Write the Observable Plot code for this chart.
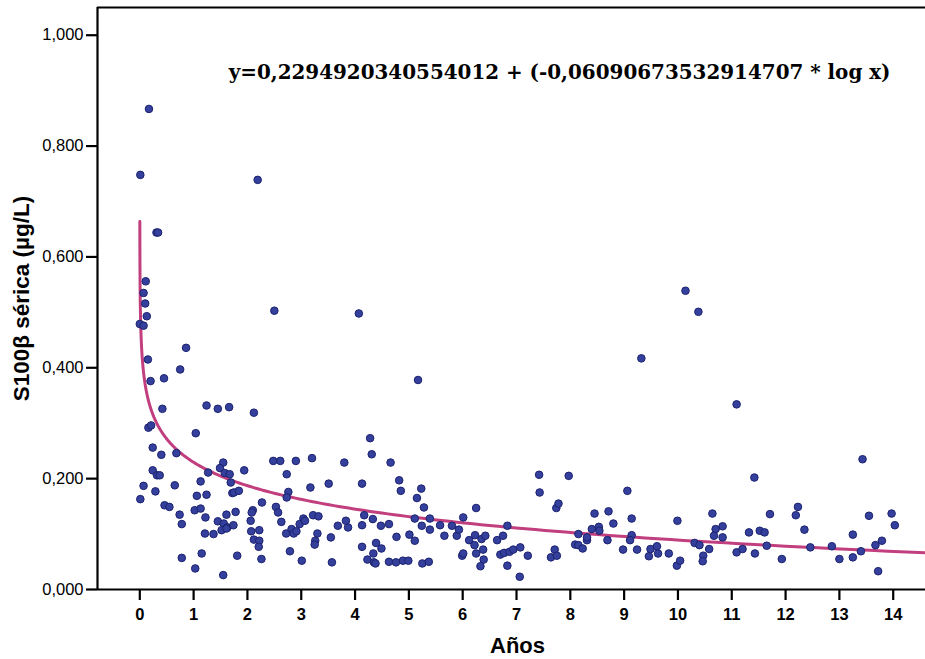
<!DOCTYPE html>
<html>
<head>
<meta charset="utf-8">
<script src="https://cdn.jsdelivr.net/npm/d3@7"></script>
<script src="https://cdn.jsdelivr.net/npm/@observablehq/plot@0.6"></script>
<style>
  html, body { margin: 0; padding: 0; background: #fff; }
  #chart svg { display: block; }
</style>
</head>
<body>
<div id="chart"></div>
<script>
// Years since (Años)
const years = [
  0.17,0.01,2.19,0.31,0.34,0.11,0.07,0.10,0.13,0.00,0.07,2.50,
  0.15,0.86,0.75,0.20,0.45,0.42,1.24,1.45,1.66,2.12,0.16,0.21,1.04,0.24,0.40,0.68,
  0.24,0.32,0.37,0.07,0.29,0.01,0.65,0.46,0.55,0.74,0.78,0.78,1.27,1.13,1.06,1.24,
  1.02,1.13,1.22,1.21,1.37,1.15,1.03,1.55,1.49,1.58,1.67,1.69,1.72,1.75,1.84,1.94,
  1.61,1.78,1.45,1.56,1.63,1.74,1.52,1.61,1.81,1.55,2.10,2.08,2.06,2.07,2.22,2.12,
  2.22,2.21,2.26,2.27,2.48,2.61,2.73,2.53,2.57,2.63,2.72,2.79,2.76,2.73,
  2.90,3.20,3.17,3.51,3.80,4.28,4.31,4.13,4.66,4.82,4.85,5.23,5.15,5.28,2.82,2.86,
  2.91,2.97,3.04,3.07,3.22,3.32,3.30,3.26,3.25,3.01,3.55,3.57,3.68,3.83,3.87,
  4.13,4.17,4.33,4.48,4.63,4.13,4.39,4.49,4.34,4.23,4.35,4.38,4.63,4.77,4.76,4.89,
  4.99,5.01,5.11,5.11,5.24,5.39,5.39,5.25,5.37,5.58,5.66,5.80,5.89,5.93,6.01,6.25,
  6.12,6.23,6.22,6.35,6.42,6.38,6.25,5.99,6.01,6.39,6.33,
  6.64,6.75,6.83,6.70,6.77,6.87,6.94,7.07,6.83,7.06,7.21,7.42,7.43,7.97,7.74,7.78,
  7.71,7.64,7.75,8.15,8.09,8.15,8.23,8.31,8.31,8.40,8.45,8.53,8.54,8.71,8.80,8.69,
  8.98,9.06,9.14,9.14,9.11,9.24,9.49,9.61,9.46,9.63,9.83,9.99,9.98,10.04,
  11.09,11.42,10.64,10.70,10.83,10.67,10.83,10.31,10.40,10.58,10.47,10.46,11.09,11.20,
  11.32,11.52,11.61,11.71,11.65,11.43,11.93,12.19,12.23,12.35,12.46,12.86,13.00,13.25,
  13.25,13.40,13.43,13.55,13.67,13.79,13.72,13.97,14.03,
  4.07,5.17,9.32,10.14,10.38
];
// Serum S100β (µg/L)
const s100 = [
  0.867,0.748,0.739,0.644,0.644,0.556,0.535,0.516,0.493,0.479,0.476,0.503,
  0.415,0.436,0.397,0.376,0.381,0.326,0.332,0.326,0.329,0.319,0.292,0.296,0.282,0.256,0.243,0.246,
  0.215,0.206,0.206,0.187,0.177,0.163,0.188,0.152,0.149,0.135,0.118,0.057,0.211,0.195,0.169,0.171,
  0.143,0.146,0.130,0.101,0.100,0.065,0.038,0.229,0.219,0.210,0.208,0.193,0.174,0.175,0.178,0.215,
  0.135,0.140,0.123,0.119,0.112,0.116,0.107,0.110,0.061,0.026,0.143,0.139,0.124,0.105,0.107,0.090,
  0.088,0.077,0.055,0.157,0.232,0.232,0.208,0.149,0.139,0.122,0.101,0.069,0.176,0.166,
  0.232,0.237,0.184,0.191,0.229,0.273,0.244,0.191,0.229,0.197,0.178,0.182,0.165,0.148,0.109,0.101,
  0.105,0.118,0.128,0.124,0.134,0.132,0.101,0.088,0.081,0.052,0.094,0.049,0.115,0.124,0.112,
  0.116,0.134,0.127,0.115,0.118,0.077,0.084,0.074,0.065,0.054,0.049,0.047,0.050,0.095,0.049,0.052,
  0.052,0.099,0.088,0.128,0.115,0.128,0.108,0.047,0.050,0.116,0.097,0.115,0.097,0.108,0.130,0.147,
  0.089,0.098,0.080,0.091,0.097,0.072,0.065,0.061,0.065,0.054,0.042,
  0.089,0.097,0.115,0.063,0.066,0.068,0.072,0.076,0.043,0.023,0.061,0.207,0.175,0.205,0.147,0.155,
  0.072,0.058,0.061,0.100,0.081,0.080,0.074,0.089,0.094,0.109,0.137,0.113,0.106,0.141,0.119,0.089,
  0.072,0.178,0.128,0.098,0.089,0.072,0.073,0.078,0.060,0.065,0.065,0.124,0.043,0.052,
  0.334,0.202,0.137,0.109,0.114,0.097,0.094,0.084,0.080,0.073,0.061,0.051,0.067,0.073,
  0.103,0.106,0.103,0.136,0.079,0.065,0.055,0.134,0.149,0.108,0.076,0.078,0.055,0.099,
  0.058,0.069,0.235,0.133,0.080,0.088,0.033,0.137,0.116,
  0.498,0.378,0.417,0.539,0.501
];
// Fitted model (from the chart's equation): y = a + b * ln(x)
const fitA = 0.2294920340554012;
const fitB = -0.06090673532914707;
const equationLabel = "y=0,2294920340554012 + (-0,06090673532914707 * log x)";
const xTicks = [0,1,2,3,4,5,6,7,8,9,10,11,12,13,14];
const yTicks = [0,0.2,0.4,0.6,0.8,1.0];
const xLabel = "Años";
const yLabel = "S100β sérica (µg/L)";

const points = years.map((x, i) => ({x, y: s100[i]}));
const xDomain = [-0.786, 14.6];
const yDomain = [0, 1.05];
// sample the fitted curve (log-spaced) across the visible x range
const curve = d3.range(0, 401).map(i => {
  const x = Math.exp(Math.log(0.0008) + (Math.log(xDomain[1]) - Math.log(0.0008)) * i / 400);
  return {x, y: fitA + fitB * Math.log(x)};
});

const fmtY = d => d.toFixed(3).replace(".", ",");
const sans = "Liberation Sans, Arial, sans-serif";

const chart = Plot.plot({
  width: 925,
  height: 659,
  marginLeft: 97,
  marginRight: 0,
  marginTop: 7,
  marginBottom: 70,
  style: {fontFamily: sans, background: "#fff", color: "#000"},
  x: {domain: xDomain, ticks: xTicks, label: null},
  y: {domain: yDomain, ticks: yTicks, label: null},
  marks: [
    Plot.ruleY([yDomain[1]], {stroke: "#000", strokeWidth: 2}),
    Plot.ruleY([yDomain[0]], {stroke: "#000", strokeWidth: 2.2}),
    Plot.ruleX([xDomain[0]], {stroke: "#000", strokeWidth: 2.2}),
    Plot.axisX({ticks: xTicks, tickSize: 11, tickPadding: 8, tickFormat: d => String(d),
      fontSize: 16.5, fontWeight: "bold", stroke: "#000", strokeWidth: 2.2, label: null}),
    Plot.axisY({ticks: yTicks, tickSize: 11, tickPadding: 3, tickFormat: fmtY,
      fontSize: 16.5, stroke: "#000", strokeWidth: 2.2, label: null}),
    Plot.line(curve, {x: "x", y: "y", stroke: "#c13f7e", strokeWidth: 3, clip: true}),
    Plot.dot(points, {x: "x", y: "y", r: 3.8, fill: "#34409b", stroke: "#1c2270", strokeWidth: 1}),
    Plot.text([equationLabel], {frameAnchor: "top-right", dx: -35, dy: 65, lineAnchor: "middle",
      textAnchor: "end", fontFamily: "DejaVu Serif, serif", fontWeight: "bold", fontSize: 19.9, fill: "#000"}),
    Plot.text([xLabel], {frameAnchor: "bottom", dx: 6, dy: 56, lineAnchor: "middle", textAnchor: "middle",
      fontFamily: sans, fontWeight: "bold", fontSize: 22, fill: "#000"}),
    Plot.text([yLabel], {frameAnchor: "left", dx: -76, rotate: -90, lineAnchor: "middle", textAnchor: "middle",
      fontFamily: sans, fontWeight: "bold", fontSize: 22.5, fill: "#000"})
  ]
});
document.getElementById("chart").appendChild(chart);
</script>
</body>
</html>
